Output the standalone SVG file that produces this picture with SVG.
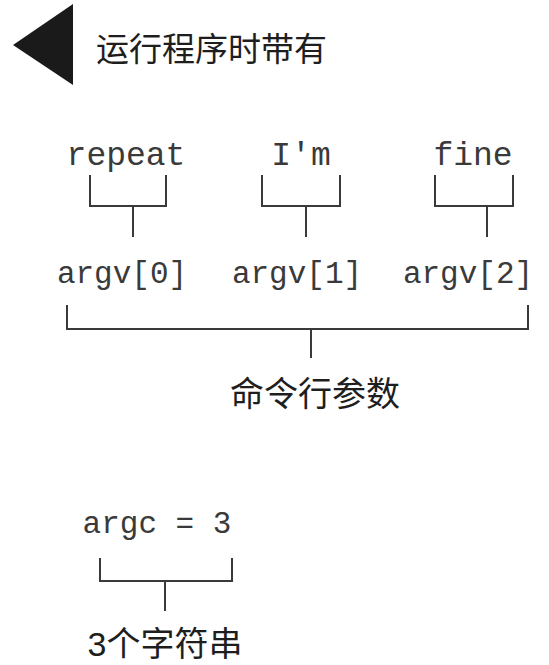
<svg xmlns="http://www.w3.org/2000/svg" width="549" height="665" viewBox="0 0 549 665">
<style>
.mono{font-family:"Liberation Mono","DejaVu Sans Mono",monospace;font-size:31px;fill:#3a3a3a;text-anchor:middle}
.big{font-size:33px}
.cjk{font-family:"Liberation Sans","Noto Sans CJK SC",sans-serif;fill:#1e1e1e}
.br{fill:none;stroke:#3a3a3a;stroke-width:2}
</style>
<rect width="549" height="665" fill="#fff"/>
<g id="title">
<polygon points="13,45 73,4 73,85" fill="#1a1a1a"/>
<text class="cjk" x="96" y="61" font-size="33">运行程序时带有</text>
</g>
<g id="word-repeat"><text class="mono big" x="126" y="165">repeat</text></g>
<g id="word-im"><text class="mono big" x="301" y="165">I'm</text></g>
<g id="word-fine"><text class="mono big" x="473" y="165">fine</text></g>
<g id="argv0"><text class="mono" x="122" y="283">argv[0]</text></g>
<g id="argv1"><text class="mono" x="297" y="283">argv[1]</text></g>
<g id="argv2"><text class="mono" x="468" y="283">argv[2]</text></g>
<g id="cmdargs"><text class="cjk" x="315" y="406" font-size="34" text-anchor="middle">命令行参数</text></g>
<g id="argc"><text class="mono" x="157" y="533" font-size="32">argc = 3</text></g>
<g id="strings"><text class="cjk" x="165" y="656" font-size="34" text-anchor="middle">3个字符串</text></g>
<g id="connectors">
<path class="br" d="M90,175 V206 H166 V175 M133,206 V237"/>
<path class="br" d="M262,175 V206 H340 V175 M306,206 V237"/>
<path class="br" d="M435,175 V206 H513 V175 M487,206 V237"/>
<path class="br" d="M67,305 V329 H528 V305 M311,329 V358"/>
<path class="br" d="M100,558 V581 H232 V558 M165,581 V611"/>
</g>
</svg>
